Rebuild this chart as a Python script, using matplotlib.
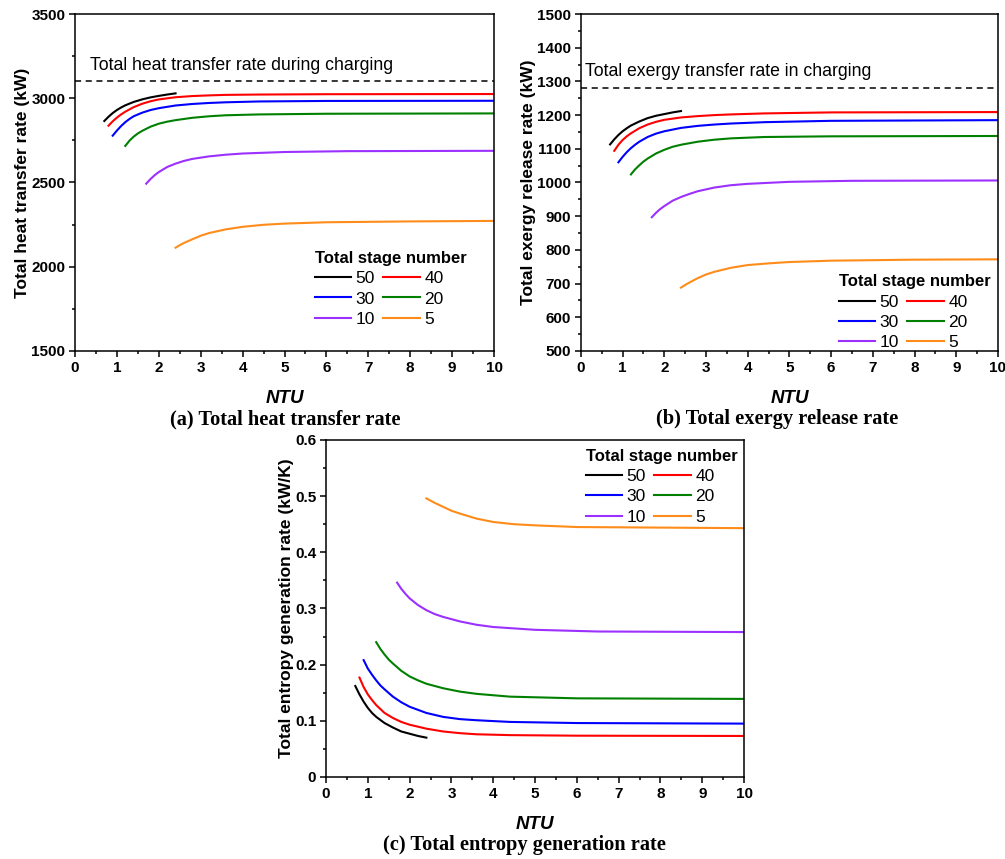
import matplotlib
matplotlib.use("Agg")
from matplotlib import pyplot as plt
from matplotlib.ticker import MultipleLocator

plt.rcParams["font.family"] = ["Liberation Sans", "DejaVu Sans"]

# NTU values, one list per total stage number
stages = ["50", "40", "30", "20", "10", "5"]
colors = ["black", "#ff0000", "#0000ff", "#008000", "#9b30ff", "#ff8c1a"]
ntu = {
    "50": [0.7, 0.8, 0.9, 1.0, 1.1, 1.2, 1.4, 1.6, 1.8, 2.0, 2.2, 2.4],
    "40": [0.8, 0.9, 1.0, 1.1, 1.2, 1.4, 1.6, 1.8, 2.0, 2.4, 2.8, 3.2, 3.6, 4.4, 6.0, 10.0],
    "30": [0.9, 1.0, 1.1, 1.2, 1.3, 1.4, 1.6, 1.8, 2.0, 2.4, 2.8, 3.2, 3.6, 4.4, 6.0, 10.0],
    "20": [1.2, 1.3, 1.4, 1.5, 1.6, 1.8, 2.0, 2.2, 2.4, 2.8, 3.2, 3.6, 4.4, 6.0, 10.0],
    "10": [1.7, 1.8, 1.9, 2.0, 2.2, 2.4, 2.6, 2.8, 3.2, 3.6, 4.0, 5.0, 6.5, 10.0],
    "5": [2.4, 2.5, 2.6, 2.8, 3.0, 3.2, 3.6, 4.0, 4.5, 5.0, 6.0, 8.0, 10.0],
}

# (a) total heat transfer rate, kW
heat = {
    "50": [2865, 2890, 2912, 2930, 2945, 2958, 2978, 2993, 3005, 3014, 3022, 3029],
    "40": [2837, 2863, 2885, 2904, 2920, 2947, 2967, 2982, 2993, 3006, 3013, 3017, 3020, 3022, 3024, 3025],
    "30": [2778, 2808, 2835, 2858, 2877, 2893, 2914, 2930, 2941, 2957, 2966, 2972, 2976, 2981, 2984, 2985],
    "20": [2717, 2748, 2772, 2791, 2806, 2831, 2849, 2861, 2870, 2884, 2893, 2899, 2904, 2908, 2910],
    "10": [2493, 2520, 2543, 2562, 2592, 2612, 2628, 2640, 2655, 2665, 2672, 2681, 2686, 2688],
    "5": [2113, 2128, 2141, 2163, 2184, 2200, 2222, 2237, 2249, 2256, 2264, 2269, 2272],
}
heat_charging = 3100

# (b) total exergy release rate, kW
exergy = {
    "50": [1113, 1128, 1141, 1152, 1161, 1169, 1181, 1191, 1198, 1203, 1208, 1212],
    "40": [1094, 1112, 1126, 1137, 1146, 1161, 1172, 1180, 1186, 1193, 1197, 1200, 1202, 1205, 1208, 1209],
    "30": [1060, 1076, 1090, 1102, 1112, 1121, 1135, 1145, 1152, 1162, 1168, 1172, 1175, 1179, 1183, 1185],
    "20": [1024, 1039, 1051, 1062, 1071, 1086, 1097, 1106, 1112, 1121, 1127, 1131, 1135, 1137, 1138],
    "10": [897, 910, 921, 930, 946, 957, 966, 974, 985, 992, 996, 1002, 1005, 1006],
    "5": [688, 696, 703, 716, 727, 735, 747, 755, 760, 764, 768, 771, 772],
}
exergy_charging = 1280

# (c) total entropy generation rate, kW/K
entropy = {
    "50": [0.162, 0.147, 0.134, 0.123, 0.114, 0.107, 0.096, 0.088, 0.081, 0.077, 0.073, 0.070],
    "40": [0.177, 0.160, 0.147, 0.137, 0.128, 0.114, 0.105, 0.098, 0.093, 0.086, 0.081, 0.078,
           0.076, 0.0745, 0.0735, 0.073],
    "30": [0.208, 0.193, 0.182, 0.172, 0.163, 0.156, 0.143, 0.133, 0.125, 0.114, 0.107, 0.103,
           0.101, 0.098, 0.096, 0.095],
    "20": [0.240, 0.228, 0.218, 0.209, 0.202, 0.189, 0.179, 0.172, 0.166, 0.158, 0.152, 0.148,
           0.143, 0.140, 0.139],
    "10": [0.346, 0.335, 0.326, 0.318, 0.306, 0.297, 0.290, 0.285, 0.277, 0.271, 0.267, 0.262,
           0.259, 0.258],
    "5": [0.496, 0.492, 0.488, 0.481, 0.474, 0.469, 0.460, 0.454, 0.450, 0.448, 0.445, 0.444, 0.443],
}

fig = plt.figure(figsize=(10.05, 8.59), dpi=100)
ax_a = fig.add_axes([0.0746, 0.5914, 0.417, 0.3923])
ax_b = fig.add_axes([0.578, 0.5914, 0.415, 0.3923])
ax_c = fig.add_axes([0.3244, 0.0955, 0.416, 0.3923])


def style_axes(ax, ylim, ymajor, yminor, ylabel, fmt=None):
    ax.set_xlim(0, 10)
    ax.set_ylim(*ylim)
    ax.xaxis.set_major_locator(MultipleLocator(1))
    ax.xaxis.set_minor_locator(MultipleLocator(0.5))
    ax.yaxis.set_major_locator(MultipleLocator(ymajor))
    ax.yaxis.set_minor_locator(MultipleLocator(yminor))
    if fmt is not None:
        ax.yaxis.set_major_formatter(plt.FuncFormatter(fmt))
    ax.tick_params(which="both", direction="out", top=False, right=False, width=1.1)
    ax.tick_params(which="major", length=4, labelsize=11, pad=3)
    ax.tick_params(which="minor", length=2.5)
    for lab in ax.get_xticklabels() + ax.get_yticklabels():
        lab.set_fontweight("bold")
    for sp in ax.spines.values():
        sp.set_linewidth(1.1)
    ax.set_xlabel("NTU", fontsize=13.5, fontweight="bold", style="italic", labelpad=11)
    ax.set_ylabel(ylabel, fontsize=12.5, fontweight="bold", labelpad=1)


def draw_curves(ax, values):
    lines = {}
    for st, c in zip(stages, colors):
        lines[st], = ax.plot(ntu[st], values[st], color=c, lw=1.5, label=st)
    return lines


def add_legend(ax, lines, anchor):
    # row-wise order: 50 40 / 30 20 / 10 5
    order = ["50", "30", "10", "40", "20", "5"]
    leg = ax.legend([lines[k] for k in order], order, loc="upper left", bbox_to_anchor=anchor,
                    ncol=2, frameon=False, title="Total stage number", fontsize=12.5,
                    handlelength=2.1, handletextpad=0.25, columnspacing=0.5,
                    labelspacing=0.3, borderpad=0, alignment="left")
    leg.get_title().set_fontweight("bold")
    leg.get_title().set_fontsize(12)


# (a)
lines_a = draw_curves(ax_a, heat)
ax_a.axhline(heat_charging, color="black", lw=1.1, ls=(0, (4, 3)))
ax_a.text(0.36, 3195, "Total heat transfer rate during charging", fontsize=12.7, va="center")
style_axes(ax_a, (1500, 3500), 500, 250, "Total heat transfer rate (kW)")
add_legend(ax_a, lines_a, (0.551, 0.323))

# (b)
lines_b = draw_curves(ax_b, exergy)
ax_b.axhline(exergy_charging, color="black", lw=1.1, ls=(0, (4, 3)))
ax_b.text(0.1, 1328, "Total exergy transfer rate in charging", fontsize=12.7, va="center")
style_axes(ax_b, (500, 1500), 100, 50, "Total exergy release rate (kW)")
add_legend(ax_b, lines_b, (0.597, 0.253))

# (c)
lines_c = draw_curves(ax_c, entropy)
style_axes(ax_c, (0, 0.6), 0.1, 0.05, "Total entropy generation rate (kW/K)",
           fmt=lambda v, p: "0" if abs(v) < 1e-9 else f"{v:.1f}")
add_legend(ax_c, lines_c, (0.600, 1.0))

# captions
cap = dict(fontsize=14.7, fontweight="bold", family="Liberation Serif", ha="center", va="center")
fig.text(0.2836, 0.512, "(a) Total heat transfer rate", **cap)
fig.text(0.773, 0.512, "(b) Total exergy release rate", **cap)
fig.text(0.522, 0.0163, "(c) Total entropy generation rate", **cap)

fig.savefig("out.png", dpi=100, facecolor="white")
